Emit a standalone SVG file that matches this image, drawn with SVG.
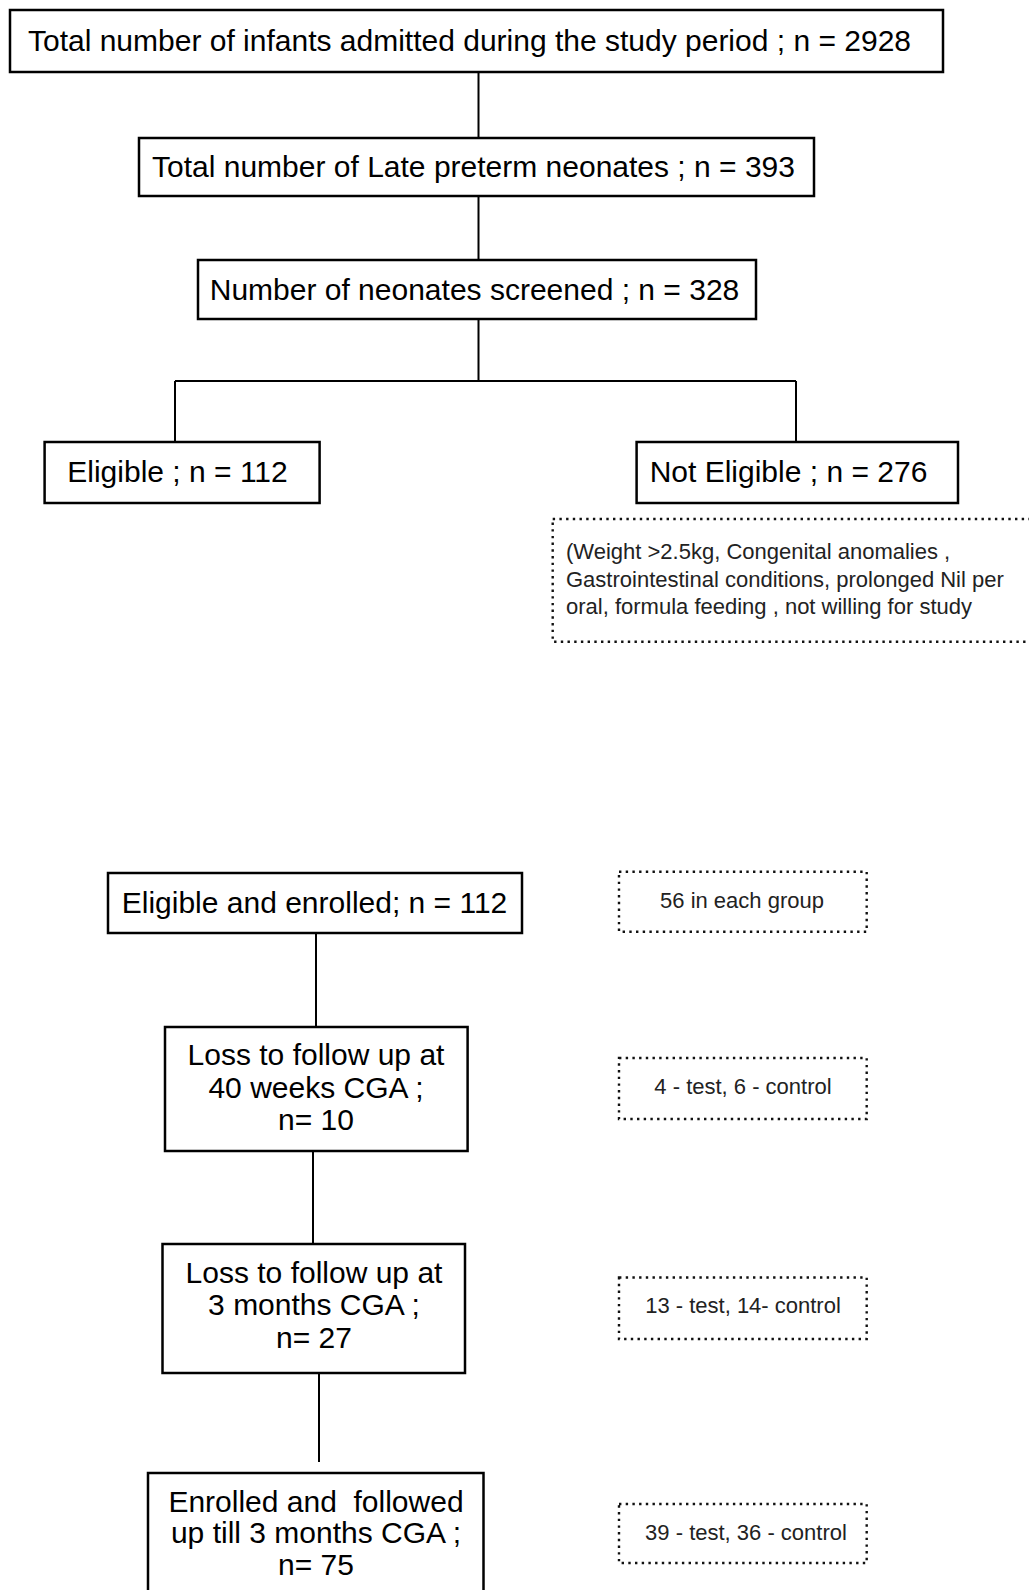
<svg xmlns="http://www.w3.org/2000/svg" width="1029" height="1590" viewBox="0 0 1029 1590">
<style>
.box{fill:#fff;stroke:#000;stroke-width:2.5}
.dot{fill:#fff;stroke:#111;stroke-width:2.4;stroke-dasharray:2.4 4.3}
.t{font-family:"Liberation Sans",Arial,Helvetica,sans-serif;font-size:30px;fill:#000;text-anchor:middle}
.s{font-family:"Liberation Sans",Arial,Helvetica,sans-serif;font-size:22px;fill:#222;text-anchor:middle}
.l{font-family:"Liberation Sans",Arial,Helvetica,sans-serif;font-size:22px;fill:#222}
.c{fill:none;stroke:#000;stroke-width:2}
</style>
<rect width="1029" height="1590" fill="#fff"/>
<g id="connectors">
<path class="c" d="M478.5 72V138"/>
<path class="c" d="M478.5 196V260"/>
<path class="c" d="M478.5 319V381M175 381H796M175 381V442M796 381V442"/>
<path class="c" d="M316 933V1027"/>
<path class="c" d="M313 1151V1244"/>
<path class="c" d="M319 1373V1462"/>
</g>
<g id="n1"><rect class="box" x="10" y="10" width="933" height="62"/><text class="t" x="469.5" y="51">Total number of infants admitted during the study period ; n = 2928</text></g>
<g id="n2"><rect class="box" x="139" y="138" width="675" height="58"/><text class="t" x="473.5" y="177">Total number of Late preterm neonates ; n = 393</text></g>
<g id="n3"><rect class="box" x="198" y="260" width="558" height="59"/><text class="t" x="474.5" y="300">Number of neonates screened ; n = 328</text></g>
<g id="n4"><rect class="box" x="44.6" y="442" width="275" height="61"/><text class="t" x="177.5" y="482">Eligible ; n = 112</text></g>
<g id="n5"><rect class="box" x="636.6" y="442" width="321.4" height="61"/><text class="t" x="788.5" y="482">Not Eligible ; n = 276</text></g>
<g id="n6"><rect class="dot" x="552.7" y="519" width="500" height="122.7"/>
<text class="l" x="566" y="558.5">(Weight &gt;2.5kg, Congenital anomalies ,</text>
<text class="l" x="566" y="586.5">Gastrointestinal conditions, prolonged Nil per</text>
<text class="l" x="566" y="614">oral, formula feeding , not willing for study</text></g>
<g id="n7"><rect class="box" x="108" y="873" width="414" height="60"/><text class="t" x="314.5" y="913">Eligible and enrolled; n = 112</text></g>
<g id="n8"><rect class="dot" x="619" y="871.7" width="247.7" height="60"/><text class="s" x="742" y="907.7">56 in each group</text></g>
<g id="n9"><rect class="box" x="165" y="1027" width="302.6" height="124"/>
<text class="t" x="316" y="1065">Loss to follow up at</text>
<text class="t" x="316" y="1098">40 weeks CGA ;</text>
<text class="t" x="316" y="1130">n= 10</text></g>
<g id="n10"><rect class="dot" x="619" y="1058" width="247.7" height="61"/><text class="s" x="743" y="1094">4 - test, 6 - control</text></g>
<g id="n11"><rect class="box" x="162.5" y="1244" width="302.5" height="129"/>
<text class="t" x="314" y="1283">Loss to follow up at</text>
<text class="t" x="314" y="1315">3 months CGA ;</text>
<text class="t" x="314" y="1348">n= 27</text></g>
<g id="n12"><rect class="dot" x="619" y="1277.5" width="247.7" height="61.5"/><text class="s" x="743" y="1313">13 - test, 14- control</text></g>
<g id="n13"><rect class="box" x="148" y="1473" width="335.5" height="140"/>
<text class="t" x="316" y="1512" xml:space="preserve">Enrolled and  followed</text>
<text class="t" x="316" y="1543">up till 3 months CGA ;</text>
<text class="t" x="316" y="1575">n= 75</text></g>
<g id="n14"><rect class="dot" x="619" y="1504" width="247.7" height="59"/><text class="s" x="746" y="1540">39 - test, 36 - control</text></g>
</svg>
